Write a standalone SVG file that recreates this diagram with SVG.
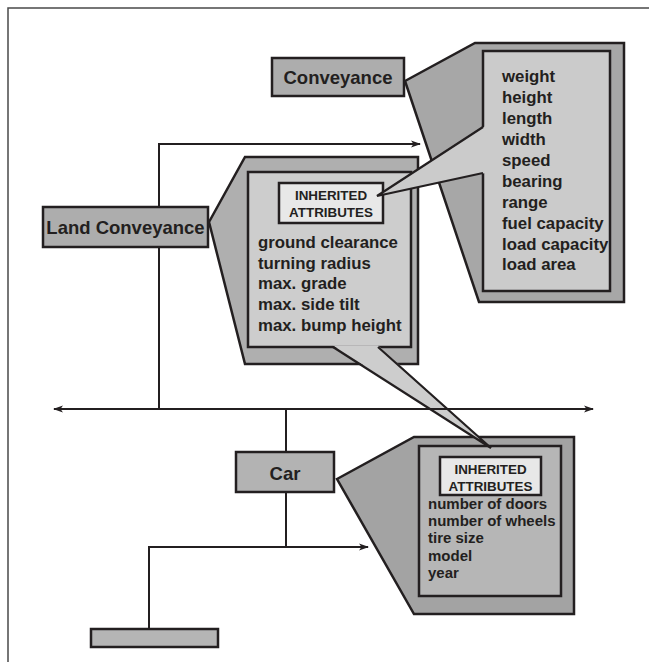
<svg xmlns="http://www.w3.org/2000/svg" width="649" height="662" viewBox="0 0 649 662">
<style>
  .box{stroke:#231f20;stroke-width:2.5;stroke-linejoin:miter}
  .conn{stroke:#231f20;stroke-width:2;fill:none}
  .ptr{stroke:#231f20;stroke-width:2.2;fill:none;stroke-linejoin:miter}
  text{font-family:"Liberation Sans",Arial,sans-serif;font-weight:bold;fill:#231f20}
  .node{font-size:18.5px;text-anchor:middle}
  .attr{font-size:16.8px}
  .small{font-size:15px}
  .inh{font-size:13.4px;text-anchor:middle}
</style>
<defs>
  <marker id="arr" viewBox="0 0 10 8" refX="9" refY="4" markerWidth="10" markerHeight="8" markerUnits="userSpaceOnUse" orient="auto-start-reverse">
    <path d="M0,0.5 L10,4 L0,7.5 L2.5,4 z" fill="#231f20"/>
  </marker>
</defs>
<rect x="8" y="8" width="700" height="700" fill="none" stroke="#4a4a4a" stroke-width="1.5"/>

<g id="connectors">
  <polyline class="conn" points="159,409 159,144 420,144" marker-end="url(#arr)"/>
  <line class="conn" x1="54" y1="409" x2="593" y2="409" marker-start="url(#arr)" marker-end="url(#arr)"/>
  <line class="conn" x1="286" y1="409" x2="286" y2="452"/>
  <line class="conn" x1="286" y1="492" x2="286" y2="547"/>
  <polyline class="conn" points="149,629 149,547 368,547" marker-end="url(#arr)"/>
</g>

<g id="land-conveyance">
  <polygon class="box" fill="#afafaf" points="209,222 245,157 418,157 418,364 245,364"/>
  <rect class="box" fill="#cdcdcd" x="248" y="172" width="163" height="175"/>
  <rect class="box" fill="#e8e8e8" x="279" y="183" width="104" height="40" stroke-width="2"/>
  <text class="inh" x="331" y="200">INHERITED</text>
  <text class="inh" x="331" y="217">ATTRIBUTES</text>
  <text class="attr" x="258" y="248">ground clearance</text>
  <text class="attr" x="258" y="268.7">turning radius</text>
  <text class="attr" x="258" y="289.4">max. grade</text>
  <text class="attr" x="258" y="310">max. side tilt</text>
  <text class="attr" x="258" y="330.7">max. bump height</text>
  <rect class="box" fill="#adadad" x="43" y="207" width="165" height="40"/>
  <text class="node" x="125.5" y="233.5">Land Conveyance</text>
</g>

<g id="conveyance">
  <polygon class="box" fill="#a7a7a7" points="405,81 475,43 624,43 624,302 479,302"/>
  <rect class="box" fill="#cbcbcb" x="483" y="51" width="127" height="240"/>
  <rect class="box" fill="#adadad" x="272" y="58" width="132" height="38"/>
  <text class="node" x="338" y="83.5">Conveyance</text>
  <text class="attr" x="502" y="82">weight</text>
  <text class="attr" x="502" y="103">height</text>
  <text class="attr" x="502" y="124">length</text>
  <text class="attr" x="502" y="145">width</text>
  <text class="attr" x="502" y="166">speed</text>
  <text class="attr" x="502" y="187">bearing</text>
  <text class="attr" x="502" y="207.5">range</text>
  <text class="attr" x="502" y="228.5">fuel capacity</text>
  <text class="attr" x="502" y="249.5">load capacity</text>
  <text class="attr" x="502" y="270">load area</text>
  <polygon fill="#cbcbcb" points="485.5,126 377,196 485.5,173"/>
  <polyline class="ptr" points="483,127 377,196 483,173"/>
</g>

<g id="car">
  <polygon class="box" fill="#a3a3a3" points="337,479 414,437 574,437 574,614 414,614"/>
  <rect class="box" fill="#b6b6b6" x="419" y="446" width="142" height="150"/>
  <rect class="box" fill="#e8e8e8" x="440" y="457" width="101" height="38" stroke-width="2"/>
  <text class="inh" x="490.5" y="473.5">INHERITED</text>
  <text class="inh" x="490.5" y="490.5">ATTRIBUTES</text>
  <text class="small" x="428" y="508.5">number of doors</text>
  <text class="small" x="428" y="526">number of wheels</text>
  <text class="small" x="428" y="543.3">tire size</text>
  <text class="small" x="428" y="560.5">model</text>
  <text class="small" x="428" y="577.5">year</text>
  <rect class="box" fill="#b3b3b3" x="236" y="452" width="98" height="40"/>
  <text class="node" x="285" y="480">Car</text>
</g>

<g id="land-pointer">
  <polygon fill="#cdcdcd" points="333,345.5 491,448 378,345.5"/>
  <polyline class="ptr" points="333,347 491,448 378,347"/>
  <line class="conn" x1="430" y1="409" x2="470" y2="409"/>
</g>

<g id="subclass">
  <rect class="box" fill="#b5b5b5" x="91" y="629" width="127" height="18"/>
</g>
</svg>
